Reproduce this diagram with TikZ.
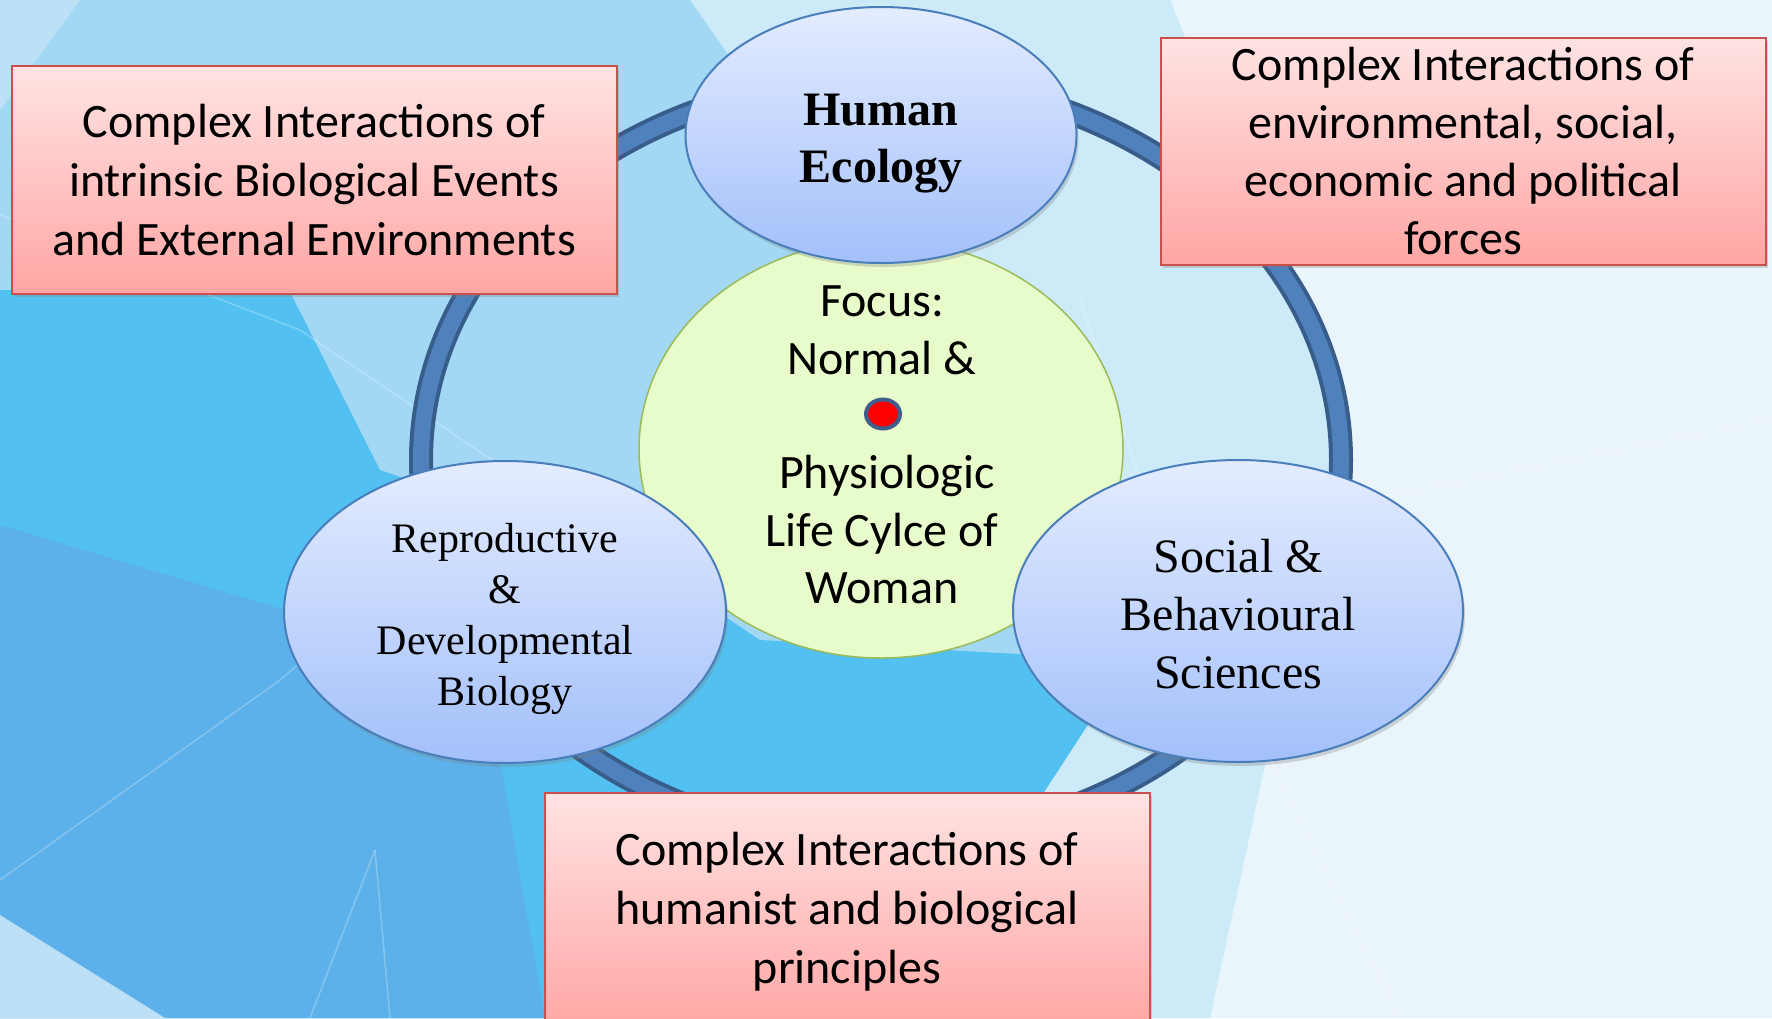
\documentclass[tikz,border=0pt]{standalone}
\usepackage{fontspec}
\setmainfont{Liberation Serif}
\newfontfamily\calibri{Carlito}
\usetikzlibrary{positioning,shapes.geometric,shadows}

\definecolor{bgbase}{HTML}{EAF4FB}
\definecolor{bgpale}{HTML}{CDEAF8}
\definecolor{bgsoft}{HTML}{A2D8F3}
\definecolor{bgcyan}{HTML}{52C1F2}
\definecolor{bgdeep}{HTML}{5DB1EA}
\definecolor{bgcorner}{HTML}{BCE0F6}
\definecolor{ringblue}{HTML}{4F81BD}
\definecolor{ringedge}{HTML}{385D8A}
\definecolor{boxedge}{HTML}{C9504D}
\definecolor{boxtop}{HTML}{FFE3E3}
\definecolor{boxbot}{HTML}{FFA6A4}
\definecolor{ovaltop}{HTML}{E4ECFF}
\definecolor{ovalbot}{HTML}{A3C0FA}
\definecolor{ovaledge}{HTML}{4A7EBB}
\definecolor{focusfill}{HTML}{E8FCCB}
\definecolor{focusedge}{HTML}{9BBB59}
\definecolor{dotedge}{HTML}{3F5E8C}

\begin{document}
\begin{tikzpicture}[
    x=1pt, y=-1pt,
    every node/.style={align=center, inner sep=0pt},
    box/.style={draw=boxedge, line width=2pt, top color=boxtop, bottom color=boxbot,
        minimum width=605pt, minimum height=228pt,
        font=\calibri\fontsize{48}{59}\selectfont,
        drop shadow={opacity=0.3, shadow xshift=2pt, shadow yshift=-3pt}},
    oval/.style={ellipse, draw=ovaledge, line width=2pt, top color=ovaltop, bottom color=ovalbot,
        drop shadow={opacity=0.3, shadow xshift=2pt, shadow yshift=-4pt}},
    focus/.style={ellipse, draw=focusedge, line width=1.5pt, fill=focusfill},
    facet/.style={white, opacity=0.25, line width=1.5pt}
]

\useasboundingbox (0,0) rectangle (1772,1018);
\fill[bgbase] (0,0) rectangle (1772,1018);
\fill[bgpale] (0,0) -- (1170,0) -- (1340,420) -- (1210,1018) -- (0,1018) -- cycle;
\fill[bgsoft] (0,0) -- (690,0) -- (1080,560) -- (1000,1018) -- (0,1018) -- cycle;
\fill[bgcyan] (0,290) -- (290,292) -- (380,470) -- (640,560) -- (760,640) -- (1130,660)
    -- (1000,860) -- (1000,1018) -- (0,1018) -- cycle;
\fill[bgdeep] (0,525) -- (285,610) -- (500,760) -- (545,1018) -- (0,1018) -- cycle;
\fill[bgcorner] (0,915) -- (165,1018) -- (0,1018) -- cycle;
\fill[bgcorner] (0,0) -- (80,0) -- (0,110) -- cycle;
\draw[facet] (0,215) -- (300,330) -- (640,560);
\draw[facet] (0,880) -- (280,680) -- (420,560);
\draw[facet] (375,850) -- (310,1018);
\draw[facet] (375,850) -- (390,1018);
\draw[facet] (1160,540) -- (1772,420);
\draw[facet] (1160,540) -- (1400,1018);
\draw[facet] (1160,540) -- (1080,300);

\coordinate (hub) at (881,460);
\draw[ringedge, line width=24pt] (hub) ellipse [x radius=460, y radius=381];
\draw[ringblue, line width=16pt] (hub) ellipse [x radius=460, y radius=381];

\node[focus, minimum width=484pt, minimum height=418pt] (focus) at (881,449) {};
\node[font=\calibri\fontsize{48}{57.4}\selectfont] (focustext) at (882,445)
    {Focus:\\Normal \&\\\mbox{}\\\hspace{10pt}Physiologic\\Life Cylce of\\Woman};
\node[ellipse, draw=dotedge, line width=4pt, fill=red, minimum width=34pt, minimum height=29pt] (dot) at (883,414) {};

\node[oval, minimum width=391pt, minimum height=256pt] (ecology) at (881,135) {};
\node[font=\bfseries\fontsize{48}{57}\selectfont] (ecologytext) at (881,144) {Human\\Ecology};
\node[oval, minimum width=442pt, minimum height=302pt] (repro) at (505,612) {};
\node[font=\fontsize{42}{51}\selectfont] (reprotext) at (505,619) {Reproductive\\\&\\Developmental\\Biology};
\node[oval, minimum width=450pt, minimum height=302pt] (social) at (1238,611) {};
\node[font=\fontsize{48}{58}\selectfont] (socialtext) at (1238,614) {Social \&\\Behavioural\\Sciences};

\node[box] (biology) at (314,180) {Complex Interactions of\\intrinsic Biological Events\\and External Environments};
\node[box, minimum height=227pt, font=\calibri\fontsize{48}{58}\selectfont] (forces) at (1463,151) {Complex Interactions of\\environmental, social,\\economic and political\\forces};
\node[box, minimum height=238pt] (principles) at (847,912) {Complex Interactions of\\humanist and biological\\principles};

\end{tikzpicture}
\end{document}
